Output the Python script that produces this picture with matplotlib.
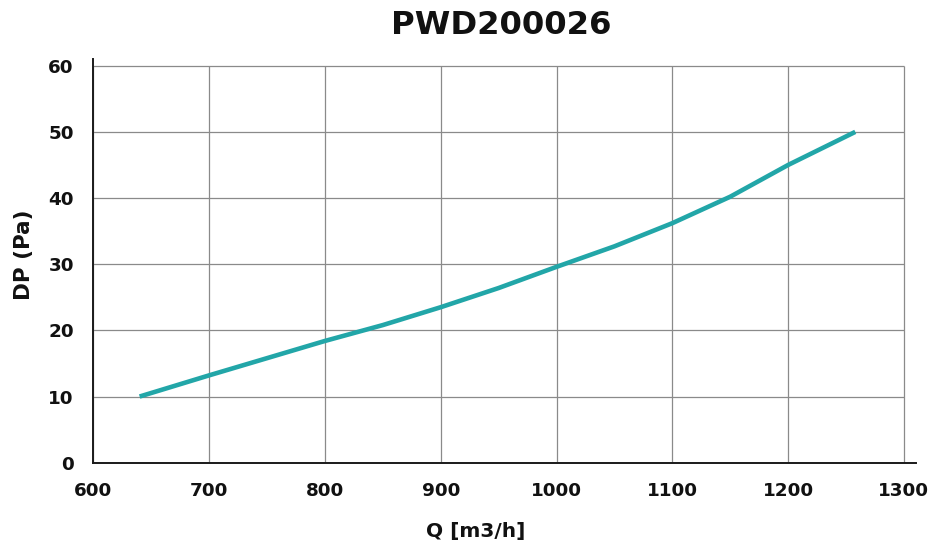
import matplotlib
matplotlib.use("Agg")
import matplotlib.pyplot as plt
import numpy as np

# ── Data ───────────────────────────────────────────────────────────────────────
flow_q = [640, 700, 750, 800, 850, 900, 950, 1000, 1050, 1100, 1150, 1200, 1258]
pressure_dp = [10.0, 13.2, 15.8, 18.4, 20.8, 23.5, 26.4, 29.6, 32.7, 36.2, 40.2, 45.0, 50.0]
x_ticks = [600, 700, 800, 900, 1000, 1100, 1200, 1300]
y_ticks = [0, 10, 20, 30, 40, 50, 60]
title = "PWD200026"
xlabel = "Q [m3/h]"
ylabel = "DP (Pa)"

_LINE_COLOR = "#22A6A8"
_GRID_COLOR = "#8A8A8A"
_TEXT_COLOR = "#111111"

plt.rcParams["font.family"] = ["DejaVu Sans"]

W, H = 940, 545
fig = plt.figure(figsize=(W / 100, H / 100), dpi=100)
# axes box in pixels: left 93.3, right 915.5, top 59.1, bottom 462.7
ax = fig.add_axes([93.3 / W, (H - 462.7) / H, (915.5 - 93.3) / W, (462.7 - 59.1) / H])
ax.set_xlim(600, 1310)
ax.set_ylim(0, 61)

# grid only inside the 600-1300 / 0-60 box
ax.hlines(y_ticks, x_ticks[0], x_ticks[-1], color=_GRID_COLOR, linewidth=0.9, zorder=1)
ax.vlines(x_ticks, y_ticks[0], y_ticks[-1], color=_GRID_COLOR, linewidth=0.9, zorder=1)

ax.plot(flow_q, pressure_dp, color=_LINE_COLOR, linewidth=3.3,
        solid_capstyle="butt", zorder=3)

ax.set_xticks(x_ticks)
ax.set_yticks(y_ticks)
ax.tick_params(length=0, labelsize=13.2, colors=_TEXT_COLOR)
ax.tick_params(axis="x", pad=14)
ax.tick_params(axis="y", pad=14)
for lbl in ax.get_xticklabels() + ax.get_yticklabels():
    lbl.set_fontweight("bold")

for side in ("top", "right"):
    ax.spines[side].set_visible(False)
for side in ("left", "bottom"):
    ax.spines[side].set_color("#1A1A1A")
    ax.spines[side].set_linewidth(1.4)

fig.text(500.8 / W, 1 - 25.5 / H, title, ha="center", va="center",
         fontsize=23.2, fontweight="bold", color=_TEXT_COLOR)
fig.text(475.8 / W, 1 - 532 / H, xlabel, ha="center", va="center",
         fontsize=14.5, fontweight="bold", color=_TEXT_COLOR)
fig.text(24 / W, 1 - 255 / H, ylabel, ha="center", va="center", rotation=90,
         fontsize=15.5, fontweight="bold", color=_TEXT_COLOR)

fig.savefig("out.png", dpi=100, facecolor="white")
plt.close(fig)
